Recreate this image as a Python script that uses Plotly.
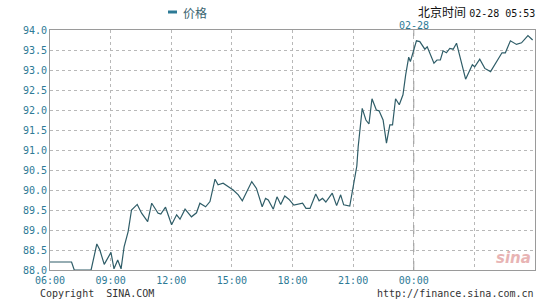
import plotly.graph_objects as go

# ---- data ----
times = [
    "02-27 06:00", "02-27 07:04", "02-27 07:12", "02-27 08:02", "02-27 08:19", "02-27 08:28",
    "02-27 08:41", "02-27 09:01", "02-27 09:10", "02-27 09:21", "02-27 09:31", "02-27 09:40",
    "02-27 09:52", "02-27 10:02", "02-27 10:19", "02-27 10:32", "02-27 10:50", "02-27 11:02",
    "02-27 11:21", "02-27 11:29", "02-27 11:43", "02-27 12:01", "02-27 12:16", "02-27 12:26",
    "02-27 12:41", "02-27 13:00", "02-27 13:15", "02-27 13:25", "02-27 13:42", "02-27 13:55",
    "02-27 14:10", "02-27 14:19", "02-27 14:34", "02-27 14:49", "02-27 15:04", "02-27 15:19",
    "02-27 15:31", "02-27 15:59", "02-27 16:13", "02-27 16:30", "02-27 16:40", "02-27 16:48",
    "02-27 17:03", "02-27 17:14", "02-27 17:25", "02-27 17:37", "02-27 17:49", "02-27 18:04",
    "02-27 18:17", "02-27 18:30", "02-27 18:40", "02-27 18:52", "02-27 19:09", "02-27 19:19",
    "02-27 19:29", "02-27 19:39", "02-27 19:58", "02-27 20:11", "02-27 20:23", "02-27 20:32",
    "02-27 20:50", "02-27 20:58", "02-27 21:05", "02-27 21:11", "02-27 21:15", "02-27 21:27",
    "02-27 21:38", "02-27 21:47", "02-27 21:56", "02-27 22:09", "02-27 22:17", "02-27 22:29",
    "02-27 22:39", "02-27 22:49", "02-27 22:57", "02-27 23:06", "02-27 23:17", "02-27 23:28",
    "02-27 23:36", "02-27 23:45", "02-27 23:50", "02-27 23:58", "02-28 00:08", "02-28 00:18",
    "02-28 00:33", "02-28 00:40", "02-28 00:48", "02-28 01:00", "02-28 01:09", "02-28 01:19",
    "02-28 01:27", "02-28 01:37", "02-28 01:47", "02-28 01:57", "02-28 02:07", "02-28 02:34",
    "02-28 02:54", "02-28 03:01", "02-28 03:16", "02-28 03:31", "02-28 03:48", "02-28 04:04",
    "02-28 04:22", "02-28 04:32", "02-28 04:47", "02-28 05:05", "02-28 05:20", "02-28 05:39",
    "02-28 05:47", "02-28 05:53",
]
prices = [
    88.20, 88.20, 88.00, 88.00, 88.65, 88.50,
    88.14, 88.44, 88.03, 88.25, 88.03, 88.58,
    88.96, 89.50, 89.64, 89.42, 89.21, 89.67,
    89.42, 89.40, 89.57, 89.13, 89.38, 89.27,
    89.52, 89.33, 89.43, 89.67, 89.58, 89.71,
    90.27, 90.13, 90.17, 90.08, 90.00, 89.88,
    89.73, 90.21, 90.04, 89.58, 89.79, 89.75,
    89.52, 89.83, 89.64, 89.85, 89.77, 89.62,
    89.64, 89.67, 89.54, 89.54, 89.90, 89.73,
    89.79, 89.70, 89.92, 89.61, 89.88, 89.63,
    89.60, 89.96, 90.30, 90.60, 91.08, 92.04,
    91.75, 91.65, 92.28, 92.00, 91.98, 91.75,
    91.17, 91.63, 91.63, 92.28, 92.13, 92.38,
    92.88, 93.32, 93.21, 93.42, 93.73, 93.71,
    93.52, 93.58, 93.42, 93.17, 93.25, 93.25,
    93.48, 93.43, 93.54, 93.52, 93.67, 92.77,
    93.13, 93.08, 93.27, 93.04, 92.96, 93.17,
    93.43, 93.43, 93.73, 93.64, 93.68, 93.86,
    93.79, 93.75,
]
year = "2019"
x_tick_times = ["02-27 06:00", "02-27 09:00", "02-27 12:00", "02-27 15:00", "02-27 18:00",
                "02-27 21:00", "02-28 00:00", "02-28 03:00", "02-28 06:00"]
x_tick_labels = ["06:00", "09:00", "12:00", "15:00", "18:00", "21:00", "00:00", "", ""]
y_ticks = [88.0, 88.5, 89.0, 89.5, 90.0, 90.5, 91.0, 91.5, 92.0, 92.5, 93.0, 93.5, 94.0]
series_name = "价格"
title_text = "北京时间"
stamp_text = "02-28 05:53"
day_label = "02-28"


def full(t):
    return f"{year}-{t}"


xs = [full(t) for t in times]
tickx = [full(t) for t in x_tick_times]

LINE = "#2f5d68"
TEAL = "#2d7a96"
MONO = "DejaVu Sans Mono, Liberation Mono, monospace"

fig = go.Figure()
fig.add_trace(go.Scatter(x=xs, y=prices, mode="lines", name=series_name,
                         line=dict(color=LINE, width=1.2), showlegend=False,
                         hoverinfo="skip"))

fig.update_layout(
    width=540, height=300,
    margin=dict(l=50, r=5, t=30, b=30),
    paper_bgcolor="white", plot_bgcolor="white",
    xaxis=dict(
        type="date", range=[tickx[0], tickx[-1]],
        tickmode="array", tickvals=tickx, ticktext=x_tick_labels,
        showgrid=True, gridcolor="#b8b8b8", griddash="dot", gridwidth=1,
        showline=True, linecolor="#9a9a9a", linewidth=1, mirror=True,
        ticks="", ticklabelstandoff=1,
        tickfont=dict(family=MONO, size=10, color=TEAL),
        zeroline=False,
    ),
    yaxis=dict(
        range=[88, 94], tickmode="array", tickvals=y_ticks,
        ticktext=[f"{v:.1f}" for v in y_ticks],
        showgrid=True, gridcolor="#b8b8b8", griddash="dot", gridwidth=1,
        showline=True, linecolor="#9a9a9a", linewidth=1, mirror=True,
        ticks="", tickfont=dict(family=MONO, size=10, color=TEAL),
        zeroline=False,
    ),
    shapes=[
        dict(type="line", xref="x", yref="paper", x0=full("02-28 00:00"), x1=full("02-28 00:00"),
             y0=0, y1=1, line=dict(color="#8a8a8a", width=1, dash="dash"), layer="below"),
        dict(type="line", xref="paper", yref="paper", x0=(168 - 50) / 485, x1=(177 - 50) / 485,
             y0=(270 - 12) / 240, y1=(270 - 12) / 240, line=dict(color=TEAL, width=3)),
    ],
    annotations=[
        dict(text=series_name, xref="paper", yref="paper", x=(181 - 50) / 485, y=(270 - 12) / 240,
             xanchor="left", yanchor="middle", showarrow=False,
             font=dict(family="Noto Sans CJK SC", size=12, color="#3a6470")),
        dict(text=f"<span style='font-family:Noto Sans CJK SC;font-size:12px'>{title_text}</span> "
                  f"<span style='font-family:DejaVu Sans Mono;font-size:10px'>{stamp_text}</span>",
             xref="paper", yref="paper", x=(537 - 50) / 485, y=(270 - 1) / 240,
             xanchor="right", yanchor="top", showarrow=False,
             font=dict(color="#111111")),
        dict(text=day_label, xref="x", yref="paper", x=full("02-28 00:00"), y=(270 - 18) / 240,
             xanchor="center", yanchor="top", showarrow=False,
             font=dict(family=MONO, size=10, color=TEAL)),
        dict(text="Copyright  SINA.COM", xref="paper", yref="paper", x=(39 - 50) / 485,
             y=(270 - 300) / 240, xanchor="left", yanchor="bottom", showarrow=False,
             borderpad=0, font=dict(family=MONO, size=10, color="#333333")),
        dict(text="http://finance.sina.com.cn", xref="paper", yref="paper", x=(535 - 50) / 485,
             y=(270 - 300) / 240, xanchor="right", yanchor="bottom", showarrow=False,
             borderpad=0, font=dict(family=MONO, size=10, color="#333333")),
        dict(text="<i><b>sina</b></i>", xref="paper", yref="paper", x=(533 - 50) / 485,
             y=(270 - 258) / 240, xanchor="right", yanchor="middle", showarrow=False,
             font=dict(family="DejaVu Sans", size=15, color="#e8b4b4")),
    ],
)

fig.write_html("out.html")
